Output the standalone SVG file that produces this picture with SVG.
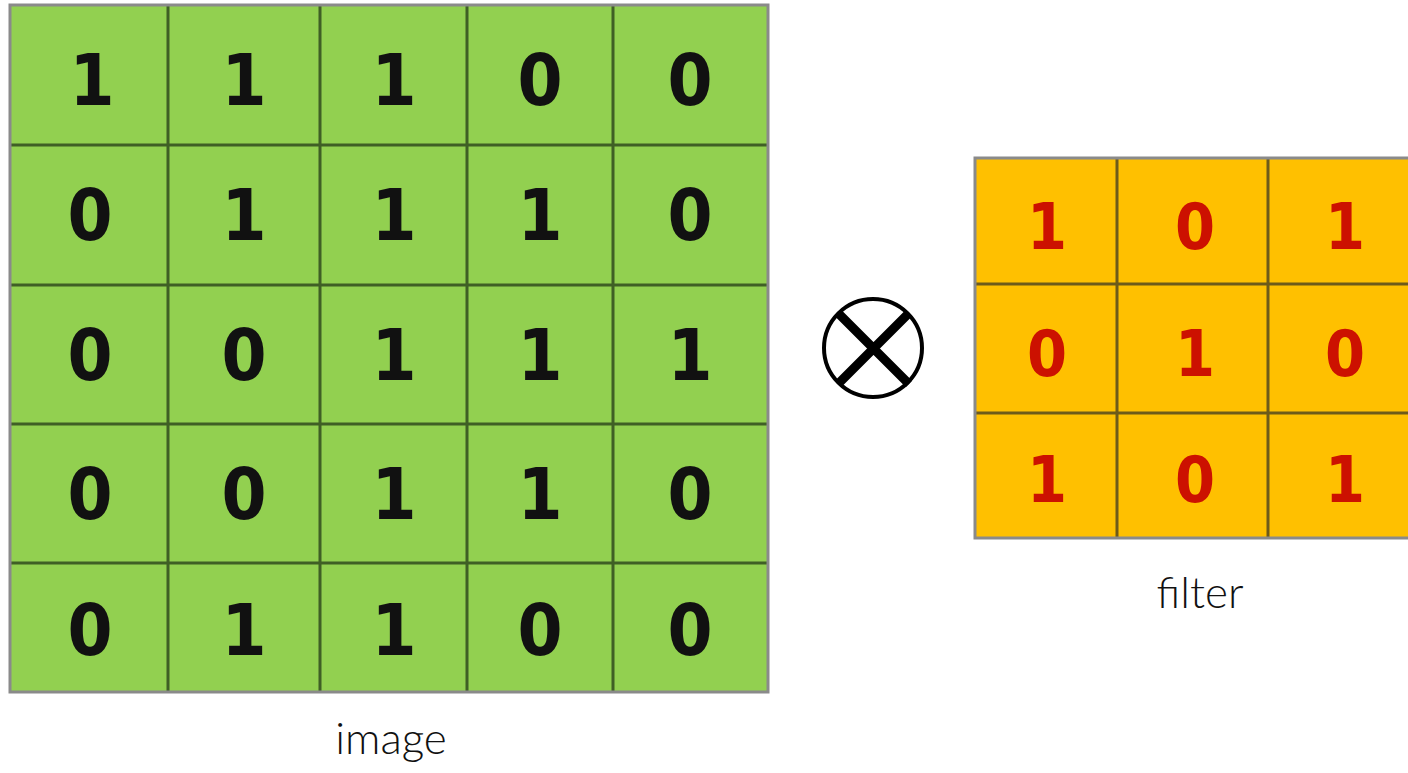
<svg xmlns="http://www.w3.org/2000/svg" width="1408" height="773" viewBox="0 0 1408 773">
<style>
.g{fill:#92D050}
.gl{stroke:#3f5f25;stroke-width:3;fill:none}
.bd{fill:none;stroke:#8a8a8a;stroke-width:3}
.o{fill:#FFC000}
.ol{stroke:#6e5a1a;stroke-width:3;fill:none}
.d{font-family:"DejaVu Sans Condensed","DejaVu Sans",sans-serif;font-stretch:condensed;font-weight:bold;font-size:72px;fill:#111;text-anchor:middle}
.r{font-family:"DejaVu Sans Condensed","DejaVu Sans",sans-serif;font-stretch:condensed;font-weight:bold;font-size:64px;fill:#CC1100;text-anchor:middle}
.lb{font-family:"Lato","Open Sans",sans-serif;font-weight:300;font-size:44px;fill:#111;text-anchor:middle}
</style>
<rect width="1408" height="773" fill="#fff"/>
<g id="image">
<rect class="g" x="10" y="5" width="758" height="687"/>
<path class="gl" d="M168 5V692M320 5V692M467 5V692M613 5V692M10 145H768M10 285H768M10 424H768M10 563H768"/>
<rect class="bd" x="10" y="5" width="758" height="687"/>
<g class="d">
<text x="92" y="105">1</text><text x="244" y="105">1</text><text x="394" y="105">1</text><text x="540" y="105">0</text><text x="690" y="105">0</text>
<text x="90" y="240">0</text><text x="244" y="240">1</text><text x="394" y="240">1</text><text x="540" y="240">1</text><text x="690" y="240">0</text>
<text x="90" y="380">0</text><text x="244" y="380">0</text><text x="394" y="380">1</text><text x="540" y="380">1</text><text x="690" y="380">1</text>
<text x="90" y="519">0</text><text x="244" y="519">0</text><text x="394" y="519">1</text><text x="540" y="519">1</text><text x="690" y="519">0</text>
<text x="90" y="655">0</text><text x="244" y="655">1</text><text x="394" y="655">1</text><text x="540" y="655">0</text><text x="690" y="655">0</text>
</g>
<text class="lb" x="391" y="754">image</text>
</g>
<g id="operator">
<circle cx="873" cy="348" r="49" fill="none" stroke="#000" stroke-width="4"/>
<path d="M838 313L909 384M909 313L838 384" stroke="#000" stroke-width="9"/>
</g>
<g id="filter">
<rect class="o" x="975" y="158" width="445" height="380"/>
<path class="ol" d="M1117 158V538M1268 158V538M975 284H1420M975 413H1420"/>
<rect class="bd" x="975" y="158" width="445" height="380"/>
<g class="r">
<text x="1047" y="249">1</text><text x="1195" y="249">0</text><text x="1345" y="249">1</text>
<text x="1047" y="376">0</text><text x="1195" y="376">1</text><text x="1345" y="376">0</text>
<text x="1047" y="502">1</text><text x="1195" y="502">0</text><text x="1345" y="502">1</text>
</g>
<text class="lb" x="1200" y="608">filter</text>
</g>
</svg>
